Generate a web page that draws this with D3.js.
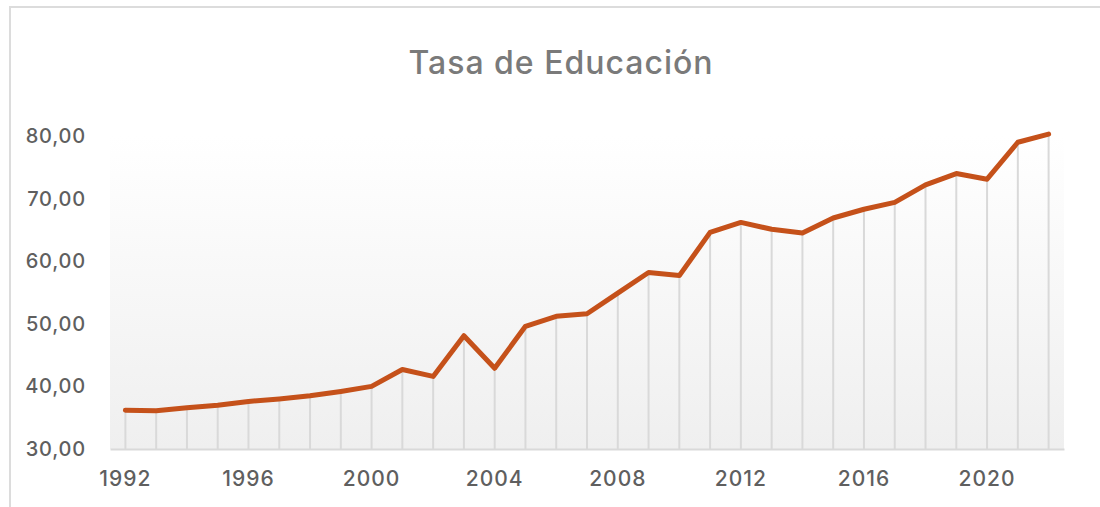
<!DOCTYPE html>
<html>
<head>
<meta charset="utf-8">
<script src="https://cdn.jsdelivr.net/npm/d3@7"></script>
<style>
  body { margin: 0; background: #fff; }
  svg { display: block; font-family: Inter, "Noto Sans", sans-serif; }
</style>
</head>
<body>
<div id="chart"></div>
<script>
// data
var years = d3.range(1992, 2023).map(String);
var tasa = [36.2, 36.1, 36.6, 37.0, 37.6, 38.0, 38.5, 39.2, 40.0, 42.7,
            41.6, 48.1, 42.9, 49.6, 51.2, 51.6, 54.9, 58.2, 57.7, 64.6,
            66.2, 65.1, 64.5, 66.9, 68.3, 69.4, 72.2, 74.0, 73.1, 79.0, 80.3];
var yTicks = [30, 40, 50, 60, 70, 80];
var xTicks = ["1992", "1996", "2000", "2004", "2008", "2012", "2016", "2020"];
var title = "Tasa de Educación";

var width = 1100, height = 507;
var m = {left: 110, right: 1064, top: 136, bottom: 449};

var svg = d3.select('#chart').append('svg')
    .attr('width', width)
    .attr('height', height);

// chart frame (cut off on right and bottom like the screenshot)
svg.append('rect')
    .attr('x', 10).attr('y', 7)
    .attr('width', 1200).attr('height', 600)
    .attr('fill', 'none')
    .attr('stroke', '#dcdcdc')
    .attr('stroke-width', 2);

var x = d3.scaleBand()
    .domain(years)
    .range([m.left, m.right])
    .padding(0);

var y = d3.scaleLinear()
    .domain([30, 80])
    .range([m.bottom, m.top]);

// plot area gradient
var grad = svg.append('defs').append('linearGradient')
    .attr('id', 'bg')
    .attr('x1', 0).attr('y1', 0).attr('x2', 0).attr('y2', 1);
grad.append('stop').attr('offset', '0%').attr('stop-color', '#ffffff');
grad.append('stop').attr('offset', '100%').attr('stop-color', '#efefef');

svg.append('rect')
    .attr('x', m.left).attr('y', y(80))
    .attr('width', m.right - m.left)
    .attr('height', y(30) - y(80))
    .attr('fill', 'url(#bg)');

svg.append('text')
    .attr('x', 561).attr('y', 74)
    .attr('text-anchor', 'middle')
    .attr('font-size', 32)
    .attr('font-weight', 500)
    .attr('letter-spacing', 1)
    .attr('fill', '#7a7a7a')
    .text(title);

var es = d3.formatLocale({decimal: ',', thousands: '.', grouping: [3], currency: ['', '€']});

var yAxis = svg.append('g')
    .attr('transform', 'translate(86,0)')
    .call(d3.axisLeft(y).tickValues(yTicks).tickSize(0).tickPadding(0).tickFormat(es.format('.2f')));
yAxis.select('.domain').remove();
yAxis.selectAll('text')
    .attr('font-size', 20)
    .attr('font-weight', 500)
    .attr('letter-spacing', 0.8)
    .attr('font-family', 'Inter, sans-serif')
    .attr('fill', '#5f5f5f');

// drop lines from each point to the axis
var cx = function(d, i) { return x(years[i]) + x.bandwidth() / 2; };
svg.append('g').selectAll('line')
    .data(tasa)
    .enter()
    .append('line')
    .attr('x1', cx).attr('x2', cx)
    .attr('y1', function(d) { return y(d); })
    .attr('y2', y(30))
    .attr('stroke', '#d9d9d9')
    .attr('stroke-width', 2);

var xAxis = svg.append('g')
    .attr('transform', 'translate(0,' + y(30) + ')')
    .call(d3.axisBottom(x).tickValues(xTicks).tickSize(0).tickSizeOuter(0).tickPadding(22));
xAxis.select('.domain')
    .attr('stroke', '#d9d9d9')
    .attr('stroke-width', 2);
xAxis.selectAll('text')
    .attr('font-size', 21)
    .attr('font-weight', 500)
    .attr('letter-spacing', 1)
    .attr('font-family', 'Inter, sans-serif')
    .attr('fill', '#5f5f5f');

var line = d3.line()
    .x(cx)
    .y(function(d) { return y(d); });

svg.append('path')
    .datum(tasa)
    .attr('d', line)
    .attr('fill', 'none')
    .attr('stroke', '#c5511a')
    .attr('stroke-width', 5)
    .attr('stroke-linejoin', 'round')
    .attr('stroke-linecap', 'round');
</script>
</body>
</html>
